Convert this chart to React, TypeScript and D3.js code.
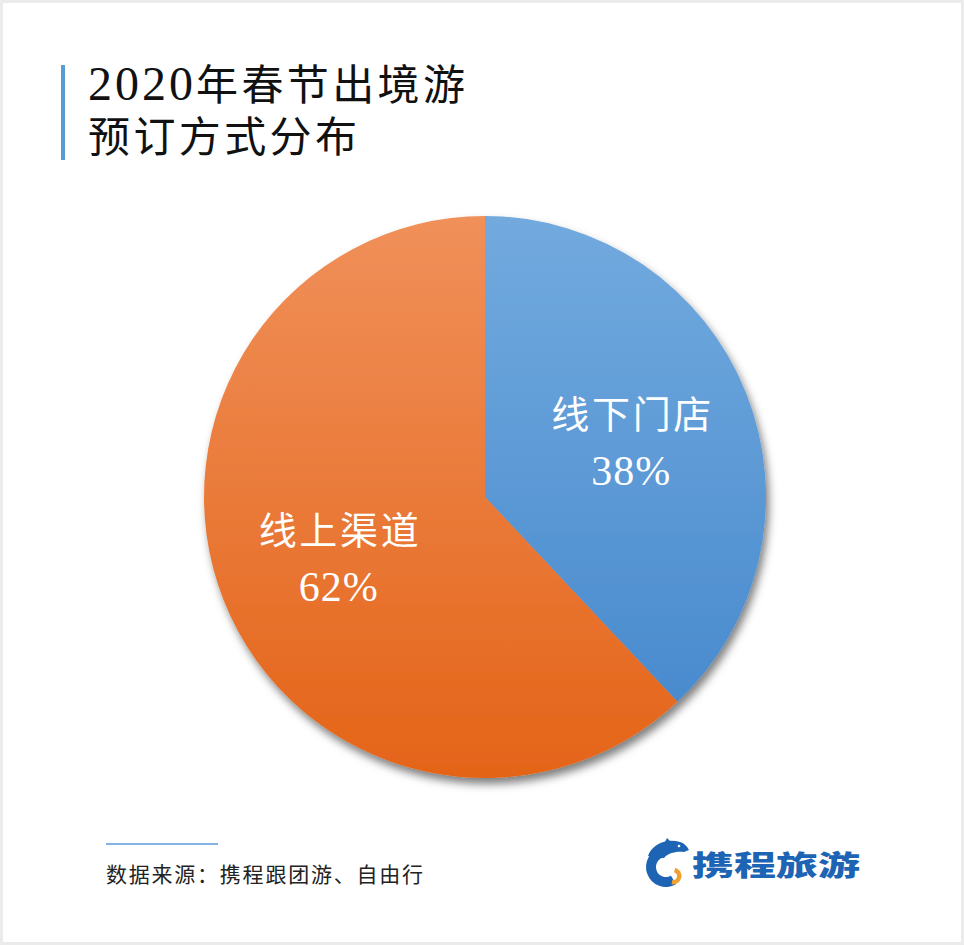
import React, { useEffect } from "react";
import * as d3 from "d3";

// Booking channels for outbound Spring Festival 2020 trips (%)
const categories = ["线下门店", "线上渠道"];
const values = [38, 62];
const titleYear = "2020";
const titleLines = ["年春节出境游", "预订方式分布"];
const sourceText = "数据来源：携程跟团游、自由行";
const brandText = "携程旅游";

const W = 964;
const H = 945;
const cx = 485;
const cy = 497;
const R = 281;

const gradients = [
  { id: "gBlue", top: "#72aade", bottom: "#4386cc" },
  { id: "gOrange", top: "#f0905a", bottom: "#e46418" },
];

export default function App() {
  useEffect(() => {
    document.body.style.margin = "0";
  }, []);

  const pie = d3
    .pie<number>()
    .sort(null)
    .value((d) => d);
  const arcs = pie(values);
  const arc = d3.arc<d3.PieArcDatum<number>>().innerRadius(0).outerRadius(R);
  const labelArc = d3
    .arc<d3.PieArcDatum<number>>()
    .innerRadius(R * 0.56)
    .outerRadius(R * 0.56);

  // Dolphin mark pieces
  const ring = d3
    .arc()
    .innerRadius(10)
    .outerRadius(20)
    .startAngle((150 * Math.PI) / 180)
    .endAngle((350 * Math.PI) / 180);
  const curl = d3
    .arc()
    .innerRadius(4)
    .outerRadius(8.5)
    .startAngle((15 * Math.PI) / 180)
    .endAngle((190 * Math.PI) / 180);

  const cjk = "'Noto Sans CJK SC', sans-serif";
  const serifCjk = "'Liberation Serif', 'Noto Sans CJK SC', serif";

  return (
    <svg width={W} height={H} style={{ display: "block" }}>
      <defs>
        {gradients.map((g) => (
          <linearGradient
            key={g.id}
            id={g.id}
            gradientUnits="userSpaceOnUse"
            x1={0}
            y1={-R}
            x2={0}
            y2={R}
          >
            <stop offset="0" stopColor={g.top} />
            <stop offset="1" stopColor={g.bottom} />
          </linearGradient>
        ))}
        <filter id="pieShadow" x="-20%" y="-20%" width="140%" height="140%">
          <feDropShadow dx="3" dy="6" stdDeviation="4" floodColor="#000" floodOpacity="0.5" />
        </filter>
      </defs>

      {/* page frame */}
      <rect x={0} y={0} width={W} height={H} fill="#ebebeb" />
      <rect x={3} y={3} width={958} height={939} fill="#ffffff" />

      {/* title */}
      <rect x={61} y={65} width={4} height={95} fill="#5b9bd5" />
      <text x={88} y={100} fontFamily={serifCjk} fill="#111">
        <tspan fontSize={48} letterSpacing={3}>
          {titleYear}
        </tspan>
        <tspan fontSize={42} textLength={269}>
          {titleLines[0]}
        </tspan>
      </text>
      <text x={88} y={152} fontFamily={serifCjk} fontSize={42} fill="#111" textLength={269}>
        {titleLines[1]}
      </text>

      {/* pie */}
      <g transform={`translate(${cx},${cy})`}>
        <g filter="url(#pieShadow)">
          {arcs.map((a, i) => (
            <path key={categories[i]} d={arc(a) || ""} fill={`url(#${gradients[i].id})`} />
          ))}
        </g>
        {arcs.map((a, i) => {
          const [lx, ly] = labelArc.centroid(a);
          return (
            <g key={categories[i] + "-label"} fill="#fff" textAnchor="middle">
              <text x={lx} y={ly - 11} fontFamily={cjk} fontSize={38} textLength={160}>
                {categories[i]}
              </text>
              <text
                x={lx}
                y={ly + 46}
                fontFamily="'Liberation Serif', serif"
                fontSize={42}
                letterSpacing={1}
              >
                {values[i]}%
              </text>
            </g>
          );
        })}
      </g>

      {/* source */}
      <line x1={106} x2={218} y1={844} y2={844} stroke="#5b9bd5" strokeWidth={1.6} />
      <text x={106} y={882} fontFamily={cjk} fontSize={21} fill="#222" textLength={317}>
        {sourceText}
      </text>

      {/* brand */}
      <g>
        <g transform="translate(666,867)">
          <path d={ring() || ""} fill="#1e64b4" />
        </g>
        <path
          d="M648 856 C652 844 667 838 680 842 C684 843 687 846 689 850 L684 852 C676 851 668 853 664 858 Z"
          fill="#1e64b4"
        />
        <path d="M663 846 L667 838 L672 843 Z" fill="#1e64b4" />
        <circle cx={679} cy={846} r={1.3} fill="#fff" />
        <g transform="translate(673,876)">
          <path d={curl() || ""} fill="#f0a030" />
        </g>
        <text
          x={692}
          y={876}
          fontFamily={cjk}
          fontWeight={900}
          fontSize={28}
          fill="#1e64b4"
          textLength={168}
          lengthAdjust="spacingAndGlyphs"
        >
          {brandText}
        </text>
      </g>
    </svg>
  );
}
